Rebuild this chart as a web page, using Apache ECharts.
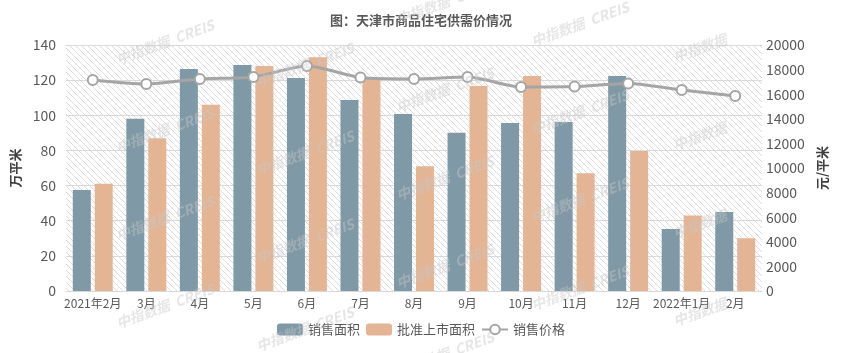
<!DOCTYPE html>
<html>
<head>
<meta charset="utf-8">
<script src="https://cdn.jsdelivr.net/npm/echarts@6/dist/echarts.min.js"></script>
<style>
  html, body { margin: 0; padding: 0; background: #fff; }
  #chart { width: 842px; height: 353px; }
</style>
</head>
<body>
<div id="chart"></div>
<script>
// 数据
var months = ['2021年2月', '3月', '4月', '5月', '6月', '7月', '8月', '9月', '10月', '11月', '12月', '2022年1月', '2月'];
var salesArea = [57.5, 98, 126.4, 128.6, 121.2, 108.7, 100.7, 90, 95.6, 96.2, 122.4, 35.3, 45];
var approvedArea = [61, 87, 106, 128, 133, 121, 71, 116.7, 122.4, 67, 79.7, 43, 30];
var salesPrice = [17150, 16830, 17240, 17400, 18290, 17360, 17240, 17400, 16590, 16630, 16870, 16340, 15850];

var font = '"Noto Sans CJK SC", sans-serif';

// 斜线底纹
function hatch() {
  var c = document.createElement('canvas');
  c.width = 6; c.height = 6;
  var ctx = c.getContext('2d');
  ctx.strokeStyle = '#dcdcdc';
  ctx.lineWidth = 1;
  ctx.beginPath();
  ctx.moveTo(-1, -1); ctx.lineTo(7, 7);
  ctx.moveTo(-1, 5); ctx.lineTo(1, 7);
  ctx.moveTo(5, -1); ctx.lineTo(7, 1);
  ctx.stroke();
  return c;
}

// 水印
var marks = [];
var colX = [165, 305, 445, 580, 700];
var colY = [42, 65, 90, 112, 48];
for (var i = 0; i < colX.length; i++) {
  for (var k = -1; k < 4; k++) {
    marks.push({
      type: 'text',
      x: colX[i],
      y: colY[i] + 88 * k,
      rotation: 0.35,
      z: 100,
      silent: true,
      style: {
        text: i === 4 ? '中指数据' : '中指数据  CREIS',
        fill: 'rgba(200,200,200,0.45)',
        font: 'italic bold 14px ' + font,
        align: 'center',
        verticalAlign: 'middle'
      }
    });
  }
}

var myChart = echarts.init(document.getElementById('chart'));
myChart.setOption({
  animation: false,
  textStyle: { fontFamily: font },
  title: {
    text: '图：天津市商品住宅供需价情况',
    left: 'center',
    top: 9,
    textStyle: { fontSize: 13, fontWeight: 'bold', color: '#595959', fontFamily: font }
  },
  color: ['#7f99a6', '#e4b594', '#a5a5a5'],
  legend: {
    bottom: 12,
    left: 'center',
    itemWidth: 26,
    itemHeight: 12,
    itemGap: 6,
    textStyle: { fontSize: 13, color: '#595959' },
    data: ['销售面积', '批准上市面积', '销售价格']
  },
  grid: {
    left: 66,
    right: 80,
    top: 45,
    bottom: 62,
    show: true,
    borderWidth: 0,
    backgroundColor: { image: hatch(), repeat: 'repeat' }
  },
  xAxis: {
    type: 'category',
    data: months,
    axisTick: { show: false },
    axisLine: { lineStyle: { color: '#d9d9d9', width: 1 } },
    axisLabel: { color: '#595959', fontSize: 12, interval: 0, margin: 6 }
  },
  yAxis: [
    {
      type: 'value',
      min: 0,
      max: 140,
      interval: 20,
      name: '万平米',
      nameLocation: 'middle',
      nameGap: 40,
      nameTextStyle: { fontSize: 13, fontWeight: 'bold', color: '#404040' },
      axisLabel: { color: '#595959', fontSize: 14, margin: 10 },
      splitLine: { lineStyle: { color: '#d9d9d9' } }
    },
    {
      type: 'value',
      min: 0,
      max: 20000,
      interval: 2000,
      name: '元/平米',
      nameLocation: 'middle',
      nameRotate: 90,
      nameGap: 52,
      nameTextStyle: { fontSize: 13, fontWeight: 'bold', color: '#404040' },
      axisLabel: {
        color: '#595959',
        fontSize: 14,
        margin: 4,
        formatter: function (v) { return String(v); }
      },
      splitLine: { show: false }
    }
  ],
  series: [
    {
      name: '销售面积',
      type: 'bar',
      barWidth: 18,
      barGap: '22%',
      data: salesArea
    },
    {
      name: '批准上市面积',
      type: 'bar',
      barWidth: 18,
      data: approvedArea
    },
    {
      name: '销售价格',
      type: 'line',
      yAxisIndex: 1,
      smooth: 0.25,
      symbol: 'circle',
      symbolSize: 10,
      lineStyle: { width: 3, color: '#a5a5a5' },
      itemStyle: { color: '#ffffff', borderColor: '#a5a5a5', borderWidth: 2 },
      data: salesPrice
    }
  ],
  graphic: marks
});
</script>
</body>
</html>
